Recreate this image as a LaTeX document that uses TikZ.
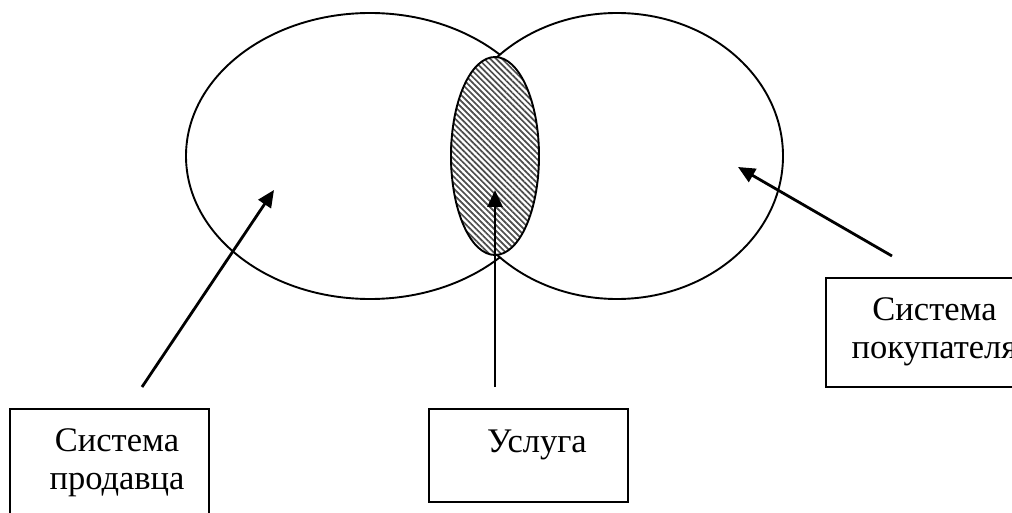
\documentclass[tikz,border=0pt]{standalone}
\usepackage{fontspec}
\setmainfont{Liberation Serif}
\usetikzlibrary{positioning,shapes.geometric,arrows.meta,patterns.meta}

\begin{document}
\begin{tikzpicture}[x=1pt,y=-1pt]
  \tikzstyle{oval}=[draw,ellipse,line width=1.9pt,inner sep=0pt]
  \tikzstyle{box}=[draw,line width=2pt,minimum width=199pt,inner sep=0pt,anchor=north west]
  \tikzstyle{txt}=[font=\fontsize{34.5}{38}\selectfont,align=center,anchor=base,inner sep=0pt]
  \tikzstyle{arr}=[-{Triangle[length=17pt,width=15pt]},line width=2.8pt]
  \useasboundingbox (0,0) rectangle (1012,513);
  \clip (0,0) rectangle (1012,513);
  \fill[white] (0,0) rectangle (1012,513);
  % two systems and the service between them
  \node[oval,minimum width=368pt,minimum height=286pt] (seller) at (370,156) {};
  \node[oval,fill=white,minimum width=332pt,minimum height=286pt] (buyer) at (617,156) {};
  \node[oval,minimum width=88pt,minimum height=198pt,preaction={fill=white},
    pattern={Lines[angle=-45,distance=4.2pt,line width=1.7pt]},pattern color=black!70] (service) at (495,156) {};
  % captions
  \node[box,minimum height=110pt] (sellbox) at (9,408) {};
  \node[txt] (selltxt) at ([xshift=7.5pt,yshift=-81pt]sellbox.north) {Система\\продавца};
  \node[box,minimum height=93pt] (servbox) at (428,408) {};
  \node[txt] (servtxt) at ([xshift=8.5pt,yshift=-44pt]servbox.north) {Услуга};
  \node[box,minimum height=109pt] (buybox) at (825,277) {};
  \node[txt] (buytxt) at ([xshift=9pt,yshift=-81pt]buybox.north) {Система\\покупателя};
  % arrows
  \coordinate (sellfrom) at (142,387);
  \coordinate (sellto) at (274,190);
  \coordinate (servfrom) at (495,387);
  \coordinate (servto) at (495,190);
  \coordinate (buyfrom) at (892,256);
  \coordinate (buyto) at (738,167);
  \draw[arr] (sellfrom) -- (sellto);
  \draw[arr] (servfrom) -- (servto);
  \draw[arr] (buyfrom) -- (buyto);
\end{tikzpicture}
\end{document}
